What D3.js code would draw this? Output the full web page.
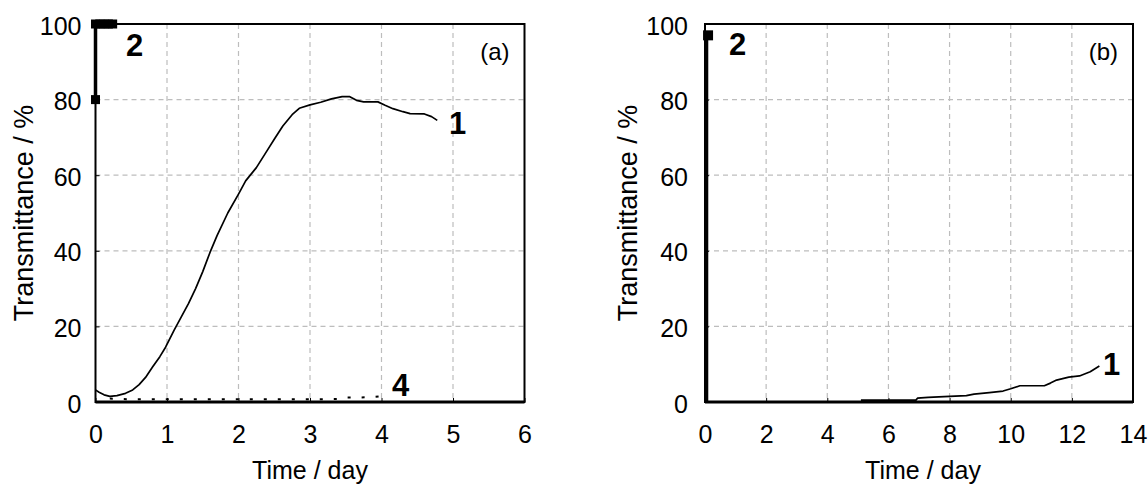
<!DOCTYPE html>
<html>
<head>
<meta charset="utf-8">
<script src="https://cdn.jsdelivr.net/npm/d3@7"></script>
<style>
  html, body { margin: 0; padding: 0; background: #fff; }
  svg text { font-family: "Liberation Sans", Arial, sans-serif; fill: #000; }
</style>
</head>
<body>
<svg id="chart" width="1148" height="484"></svg>
<script>
// ---------- data ----------
const xTicksA = [0, 1, 2, 3, 4, 5, 6];
const xTicksB = [0, 2, 4, 6, 8, 10, 12, 14];
const yTicks = [0, 20, 40, 60, 80, 100];

// panel (a) curve 1: [day, transmittance %]
const a1Day = [0,0.05,0.12,0.2,0.3,0.42,0.52,0.61,0.7,0.8,0.9,0.98,1.1,1.2,1.3,1.4,1.5,1.6,1.7,1.85,2.0,2.1,2.25,2.4,2.5,2.62,2.75,2.85,3.0,3.15,3.3,3.45,3.55,3.65,3.75,3.95,4.05,4.16,4.3,4.4,4.6,4.7,4.78];
const a1Val = [3.2,2.6,1.9,1.5,1.7,2.3,3.2,4.6,6.5,9.3,12,14.5,19,22.5,26,30,34.5,39.5,44,50,55,58.5,62,66.5,69.5,73,76,77.7,78.6,79.3,80.2,80.8,80.8,79.8,79.4,79.4,78.5,77.6,76.8,76.3,76.2,75.5,74.5];

// panel (a) curve 2
const a2Day = [0.0, 0.0, 0.3];
const a2Val = [80, 100, 100];
const a2MarkDay = [0.0, 0.0, 0.06, 0.12, 0.18, 0.24];
const a2MarkVal = [80, 100, 100, 100, 100, 100];

// panel (a) curve 4 (dotted)
const a4Day = [0.2,0.5,1,2,3,3.4,3.5,3.7,3.85,3.97];
const a4Val = [0.9,0.7,0.7,0.7,0.7,0.8,1.2,1.2,1.3,1.5];

// panel (b) curve 1
const b1Day = [5.1,6.9,6.95,7.3,8.0,8.55,8.8,9.3,9.75,10.0,10.3,11.1,11.3,11.5,11.9,12.25,12.6,12.9];
const b1Val = [0.5,0.5,1.0,1.2,1.5,1.7,2.1,2.5,2.9,3.5,4.3,4.3,5.0,5.8,6.6,6.9,8.0,9.5];

// panel (b) curve 2
const b2Day = [0.05, 0.05];
const b2Val = [0, 97];
const b2MarkDay = [0.1];
const b2MarkVal = [97];

const zip = (xs, ys) => xs.map((x, i) => [x, ys[i]]);

// ---------- drawing ----------
const svg = d3.select("#chart");
const FONT = 25;

function panel(cfg) {
  const x = d3.scaleLinear().domain(cfg.xDomain).range(cfg.xRange);
  const y = d3.scaleLinear().domain([0, 100]).range([402, 24]);
  const g = svg.append("g");

  // grid
  g.append("g").selectAll("line")
    .data(cfg.xTicks.slice(1, -1)).join("line")
    .attr("x1", d => x(d)).attr("x2", d => x(d))
    .attr("y1", y(100)).attr("y2", y(0))
    .attr("stroke", "#bdbdbd").attr("stroke-width", 1.2)
    .attr("stroke-dasharray", "5,4");
  g.append("g").selectAll("line")
    .data(yTicks.slice(1, -1)).join("line")
    .attr("x1", x.range()[0]).attr("x2", x.range()[1])
    .attr("y1", d => y(d)).attr("y2", d => y(d))
    .attr("stroke", "#bdbdbd").attr("stroke-width", 1.2)
    .attr("stroke-dasharray", "5,4");

  // axes (tick labels)
  const xAxis = d3.axisBottom(x).tickValues(cfg.xTicks).tickFormat(d3.format("d"))
    .tickSize(-4).tickPadding(23);
  const gx = g.append("g").attr("transform", `translate(0,${y(0)})`).call(xAxis);
  gx.attr("font-family", null).attr("font-size", null);
  gx.select(".domain").remove();
  gx.selectAll("line").attr("stroke", "#000");
  gx.selectAll("text").style("font-size", FONT + "px").attr("dy", "0.71em");

  const yAxis = d3.axisLeft(y).tickValues(yTicks).tickFormat(d3.format("d"))
    .tickSize(-4).tickPadding(cfg.yPad);
  const gy = g.append("g").attr("transform", `translate(${x.range()[0]},0)`).call(yAxis);
  gy.attr("font-family", null).attr("font-size", null);
  gy.select(".domain").remove();
  gy.selectAll("line").attr("stroke", "#000");
  gy.selectAll("text").style("font-size", FONT + "px").attr("dy", "0.4em");

  // frame
  g.append("rect")
    .attr("x", x.range()[0]).attr("y", y(100))
    .attr("width", x.range()[1] - x.range()[0]).attr("height", y(0) - y(100))
    .attr("fill", "none").attr("stroke", "#000").attr("stroke-width", 2);
  g.append("line")
    .attr("x1", x.range()[0]).attr("x2", x.range()[1])
    .attr("y1", y(0)).attr("y2", y(0))
    .attr("stroke", "#000").attr("stroke-width", 3);

  const line = d3.line().x(d => x(d[0])).y(d => y(d[1]));

  // series
  cfg.series.forEach(s => {
    g.append("path").datum(s.data).attr("d", line)
      .attr("fill", "none").attr("stroke", "#000")
      .attr("stroke-width", s.width)
      .attr("stroke-linejoin", "round")
      .attr("stroke-dasharray", s.dash || null);
    if (s.marks) {
      g.append("g").selectAll("rect").data(s.marks).join("rect")
        .attr("x", d => x(d[0]) - s.markSize / 2)
        .attr("y", d => y(d[1]) - s.markSize / 2)
        .attr("width", s.markSize).attr("height", s.markSize)
        .attr("fill", "#000");
    }
  });

  // axis titles
  const cx = (x.range()[0] + x.range()[1]) / 2;
  g.append("text").attr("x", cx + cfg.xTitleShift).attr("y", 479)
    .attr("text-anchor", "middle").style("font-size", FONT + "px").text("Time / day");
  g.append("text")
    .attr("transform", `translate(${cfg.yTitleX},${(y(0) + y(100)) / 2}) rotate(-90)`)
    .attr("text-anchor", "middle").attr("dy", "0.35em")
    .style("font-size", "27px").text("Transmittance / %");

  // panel tag
  g.append("text").attr("x", x.range()[1] - 15).attr("y", 60)
    .attr("text-anchor", "end").style("font-size", "24px").text(cfg.tag);

  // curve labels
  cfg.labels.forEach(l => {
    g.append("text").attr("x", l.x).attr("y", l.y)
      .style("font-size", "31px").style("font-weight", "bold").text(l.t);
  });
}

panel({
  xDomain: [0, 6], xRange: [95.5, 524.5], xTicks: xTicksA, yPad: 14,
  yTitleX: 24, xTitleShift: 0, tag: "(a)",
  series: [
    { data: zip(a4Day, a4Val), width: 2, dash: "3,11" },
    { data: zip(a1Day, a1Val), width: 1.7 },
    { data: zip(a2Day, a2Val), width: 3.5, marks: zip(a2MarkDay, a2MarkVal), markSize: 9 }
  ],
  labels: [ { t: "2", x: 126, y: 56 }, { t: "1", x: 449, y: 134 }, { t: "4", x: 392, y: 396 } ]
});

panel({
  xDomain: [0, 14], xRange: [705, 1133], xTicks: xTicksB, yPad: 17,
  yTitleX: 628, xTitleShift: 4, tag: "(b)",
  series: [
    { data: zip(b1Day, b1Val), width: 1.7 },
    { data: zip(b2Day, b2Val), width: 3.5, marks: zip(b2MarkDay, b2MarkVal), markSize: 10 }
  ],
  labels: [ { t: "2", x: 729, y: 55 }, { t: "1", x: 1103, y: 375 } ]
});
</script>
</body>
</html>
